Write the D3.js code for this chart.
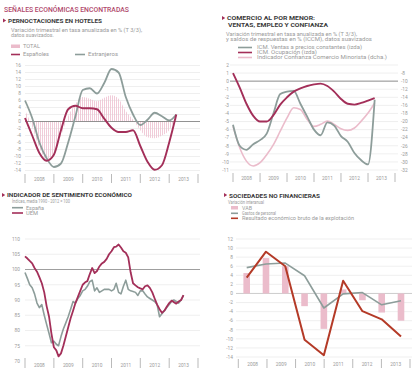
<!DOCTYPE html>
<html>
<head>
<meta charset="utf-8">
<script src="https://d3js.org/d3.v7.min.js"></script>
<style>
  body { margin: 0; background: #fff; }
  svg text { font-family: Roboto, "DejaVu Sans", sans-serif; }
</style>
</head>
<body>
<div id="grafico"></div>
<script>
// ---- datos ----
var anios = ["2008", "2009", "2010", "2011", "2012", "2013"];

var trimestres = ["2008-T1","2008-T2","2008-T3","2008-T4","2009-T1","2009-T2","2009-T3","2009-T4",
                  "2010-T1","2010-T2","2010-T3","2010-T4","2011-T1","2011-T2","2011-T3","2011-T4",
                  "2012-T1","2012-T2","2012-T3","2012-T4","2013-T1","2013-T2"];

// pernoctaciones en hoteles
var hotelTotal       = [3.3, -1.5, -7.5, -10.8, -9.0, -4.0, 1.5, 5.0, 7.0, 6.5, 5.8, 6.8, 7.5, 6.5, 3.0, 0.5, -2.5, -4.5, -4.8, -4.0, -2.5, 1.8];
var hotelEspanoles   = [1.0, -4.0, -9.0, -11.2, -9.5, -2.5, 3.5, 4.5, 3.8, 3.8, 3.5, 0.8, -1.8, -3.0, -3.0, -2.5, -7.0, -11.5, -13.8, -12.5, -6.0, 2.0];
var hotelExtranjeros = [6.0, 1.0, -6.0, -10.5, -13.0, -12.0, -6.0, 1.5, 9.0, 9.5, 8.0, 11.0, 15.0, 14.0, 7.0, 2.0, -1.0, 0.5, 2.5, 1.5, 0.3, 2.0];

// comercio al por menor
var icmVentas    = [-5.4, -8.0, -8.5, -7.8, -7.3, -6.5, -4.0, -1.6, -1.3, -1.2, -2.8, -4.4, -6.0, -6.7, -5.1, -5.5, -6.8, -7.5, -8.9, -9.8, -10.3, -2.3];
var icmOcupacion = [1.0, -0.8, -2.8, -4.3, -5.0, -5.0, -4.2, -2.9, -2.0, -1.3, -0.9, -0.6, -0.4, -0.3, -0.6, -1.3, -2.2, -2.8, -2.9, -2.7, -2.4, -2.1];
var confianzaMinorista = [-21.2, -26.5, -29.8, -31.0, -30.2, -28.2, -25.7, -22.4, -19.1, -16.6, -17.0, -19.5, -21.2, -20.7, -19.9, -20.7, -21.8, -22.2, -21.6, -19.9, -17.9, -15.4];

// indicador de sentimiento económico (mensual, ene 2008 - jul 2013)
var meses = d3.timeMonth.range(new Date(2008, 0, 1), new Date(2013, 7, 1));
var esiEspana = [99.0, 97.0, 95.0, 94.0, 92.0, 89.0, 87.5, 88.5, 85.0, 82.0, 79.0, 76.0,
                 76.5, 75.5, 75.0, 78.0, 80.5, 82.5, 84.5, 87.0, 89.5, 89.0, 90.5, 91.5,
                 93.0, 93.5, 94.5, 96.0, 96.5, 93.0, 94.0, 92.5, 93.0, 93.5, 93.5, 93.5,
                 93.0, 93.5, 95.5, 92.5, 92.0, 94.5, 96.5, 93.5, 93.0, 92.8, 92.5, 91.5,
                 93.0, 93.0, 92.0, 91.0, 90.5, 90.0, 89.5, 88.5, 84.5, 85.5, 86.5, 87.5,
                 88.5, 89.5, 90.0, 89.5, 89.0, 90.0, 91.5];
var esiUem = [104.3, 103.6, 102.8, 102.0, 100.5, 99.3, 97.5, 95.5, 92.5, 88.0, 84.5, 79.0,
              74.5, 73.5, 71.5, 72.5, 75.0, 78.0, 81.0, 84.0, 86.5, 89.0, 91.0, 93.0,
              95.0, 95.8, 96.2, 98.5, 100.5, 98.8, 99.5, 101.0, 102.0, 102.5, 103.5, 105.0,
              106.0, 107.3, 107.5, 108.2, 107.2, 106.0, 105.5, 104.0, 99.0, 95.5, 94.8, 94.2,
              93.8, 93.5, 94.5, 94.8, 94.0, 92.5, 90.5, 88.5, 87.0, 85.8, 86.5, 87.8,
              89.0, 89.8, 89.3, 88.8, 89.5, 90.0, 91.6];

// sociedades no financieras
var periodosSnf = ["P1", "P2", "P3", "P4", "P5", "P6", "P7", "P8", "P9"];
var vab            = [4.5, 7.8, 6.0, -2.8, -7.8, 0.9, -1.5, -4.2, -6.0];
var gastosPersonal = [5.7, 6.5, 6.7, 3.9, -3.2, -0.1, 0.2, -2.5, -1.6];
var resultadoBruto = [3.5, 9.2, 6.0, -10.2, -13.6, 2.8, -3.9, -5.7, -9.5];

// ---- colores ----
var GRANATE = "#a32f59", GRIS = "#8d9d9a", ROSA = "#ebbccb", ROJO = "#b43a27";
var TEXTO = "#9a9a9a";

var svg = d3.select("#grafico").append("svg")
    .attr("width", 414).attr("height", 374);

var defs = svg.append("defs");
var rayas = defs.append("pattern")
    .attr("id", "rayas").attr("patternUnits", "userSpaceOnUse")
    .attr("width", 2).attr("height", 4);
rayas.append("line").attr("x1", 0.5).attr("x2", 0.5).attr("y1", 0).attr("y2", 4)
    .attr("stroke", "#edbfcf").attr("stroke-width", 0.8);

function fechaTrim(t) {
    return new Date(+t.slice(0, 4), (+t.slice(6) - 1) * 3, 1);
}

function texto(x, y, s, size, color, largo, peso) {
    var t = svg.append("text").attr("x", x).attr("y", y)
        .attr("font-size", size).attr("fill", color).text(s);
    if (largo) t.attr("textLength", largo).attr("lengthAdjust", "spacingAndGlyphs");
    if (peso) t.attr("font-weight", peso);
    return t;
}

function triangulo(x, y) {
    svg.append("path").attr("d", "M" + x + "," + (y - 2) + "L" + (x + 3.2) + "," + y + "L" + x + "," + (y + 2) + "Z")
        .attr("fill", GRANATE);
}

function rejilla(y, valores, x0, x1, xEtiq, conEtiq) {
    svg.append("g").selectAll("line").data(valores).join("line")
        .attr("x1", x0).attr("x2", x1)
        .attr("y1", function(d) { return y(d); }).attr("y2", function(d) { return y(d); })
        .attr("stroke", "#e4e4e4").attr("stroke-width", 0.6);
    if (conEtiq !== false) {
        svg.append("g").selectAll("text").data(valores).join("text")
            .attr("x", xEtiq).attr("y", function(d) { return y(d) + 1.8; })
            .attr("text-anchor", "end").attr("font-size", 4.8).attr("fill", TEXTO)
            .text(function(d) { return d; });
    }
}

function lineaRef(y, v, x0, x1, color) {
    svg.append("line").attr("x1", x0).attr("x2", x1)
        .attr("y1", y(v)).attr("y2", y(v))
        .attr("stroke", color).attr("stroke-width", 0.8);
}

function ejeAnios(x, etiquetas, y0, y1, yTexto) {
    var limites = etiquetas.map(function(a) { return new Date(+a, 0, 1); });
    limites.push(new Date(+etiquetas[etiquetas.length - 1] + 1, 0, 1));
    svg.append("g").selectAll("line").data(limites).join("line")
        .attr("x1", function(d) { return x(d); }).attr("x2", function(d) { return x(d); })
        .attr("y1", y0).attr("y2", y1)
        .attr("stroke", "#9c9c9c").attr("stroke-width", 0.7);
    svg.append("g").selectAll("text").data(etiquetas).join("text")
        .attr("x", function(d) { return (x(new Date(+d, 0, 1)) + x(new Date(+d + 1, 0, 1))) / 2; })
        .attr("y", yTexto).attr("text-anchor", "middle")
        .attr("font-size", 4.8).attr("fill", TEXTO).text(function(d) { return d; });
}

function trazo(datos, x, y, xf, color, ancho, curva) {
    svg.append("path").datum(datos)
        .attr("fill", "none").attr("stroke", color).attr("stroke-width", ancho)
        .attr("stroke-linejoin", "round")
        .attr("d", d3.line().x(function(d, i) { return x(xf(i)); }).y(function(d) { return y(d); }).curve(curva));
}

function muestraLinea(x0, x1, y, color, ancho) {
    svg.append("line").attr("x1", x0).attr("x2", x1).attr("y1", y).attr("y2", y)
        .attr("stroke", color).attr("stroke-width", ancho);
}

// ---- título general ----
texto(4, 12, "SEÑALES ECONÓMICAS ENCONTRADAS", 7, "#b0486c", 125, 500);

// ================= 1. Pernoctaciones en hoteles =================
triangulo(3, 20.5);
texto(8, 22.5, "PERNOCTACIONES EN HOTELES", 5.4, "#3a3a3a", 94, 700);
texto(11, 31.5, "Variación trimestral en tasa anualizada en % (T 3/3),", 4.9, TEXTO, 131);
texto(11, 37, "datos suavizados.", 4.9, TEXTO, 43);
svg.append("rect").attr("x", 11).attr("y", 44.5).attr("width", 9).attr("height", 3.5).attr("fill", ROSA);
texto(23, 48.3, "TOTAL", 4.9, TEXTO, 17);
muestraLinea(11, 20, 54.5, GRANATE, 1.6);
texto(23, 56.3, "Españoles", 4.9, TEXTO, 26);
muestraLinea(75, 85, 54.5, GRIS, 1.6);
texto(88, 56.3, "Extranjeros", 4.9, TEXTO, 30);

var x1 = d3.scaleTime().domain([new Date(2008, 0, 1), new Date(2014, 0, 1)]).range([25, 198]);
var y1 = d3.scaleLinear().domain([-14, 16]).range([170.5, 65.5]);
rejilla(y1, d3.range(-14, 17, 2), 25, 200, 21);
svg.append("path").datum(hotelTotal)
    .attr("fill", "url(#rayas)")
    .attr("d", d3.area().x(function(d, i) { return x1(fechaTrim(trimestres[i])); })
        .y0(y1(0)).y1(function(d) { return y1(d); }).curve(d3.curveMonotoneX));
lineaRef(y1, 0, 25, 200, "#7a7a7a");
var xt = function(i) { return fechaTrim(trimestres[i]); };
trazo(hotelExtranjeros, x1, y1, xt, GRIS, 1.8, d3.curveMonotoneX);
trazo(hotelEspanoles, x1, y1, xt, GRANATE, 1.9, d3.curveMonotoneX);
ejeAnios(x1, anios, 174, 183, 180.5);

// ================= 2. Comercio al por menor =================
triangulo(222, 18);
texto(227, 20, "COMERCIO AL POR MENOR:", 5.4, "#3a3a3a", 88, 700);
texto(228, 27, "VENTAS, EMPLEO Y CONFIANZA", 5.4, "#3a3a3a", 100, 700);
texto(226, 35.5, "Variación trimestral en tasa anualizada en % (T 3/3),", 4.9, TEXTO, 131);
texto(226, 41, "y saldos de respuestas en % (ICCM), datos suavizados", 4.9, TEXTO, 146);
muestraLinea(238, 252, 47.5, GRIS, 1.6);
texto(257, 49.3, "ICM. Ventas a precios constantes (izda)", 4.9, TEXTO, 105);
muestraLinea(238, 252, 52.5, GRANATE, 1.6);
texto(257, 54.3, "ICM. Ocupación (izda)", 4.9, TEXTO, 60);
muestraLinea(238, 252, 57.5, ROSA, 1.6);
texto(257, 59.3, "Indicador Confianza Comercio Minorista (dcha.)", 4.9, TEXTO, 130);

var x2 = d3.scaleTime().domain([new Date(2008, 0, 1), new Date(2014, 0, 1)]).range([233, 395]);
var y2 = d3.scaleLinear().domain([-11, 2]).range([170, 65]);
var y2d = d3.scaleLinear().domain([-32, -6]).range([170, 65]);
rejilla(y2, d3.range(-11, 3, 1), 230, 398, 229);
svg.append("g").selectAll("text").data(d3.range(-32, -7, 2)).join("text")
    .attr("x", 401).attr("y", function(d) { return y2d(d) + 1.8; })
    .attr("font-size", 4.8).attr("fill", TEXTO).text(function(d) { return d; });
lineaRef(y2, 0, 230, 398, "#7a7a7a");
trazo(confianzaMinorista, x2, y2d, xt, ROSA, 1.6, d3.curveMonotoneX);
trazo(icmVentas, x2, y2, xt, GRIS, 1.8, d3.curveMonotoneX);
trazo(icmOcupacion, x2, y2, xt, GRANATE, 1.9, d3.curveMonotoneX);
ejeAnios(x2, anios, 173, 182, 179.5);

// ================= 3. Indicador de sentimiento económico =================
triangulo(2, 195);
texto(7, 197, "INDICADOR DE SENTIMIENTO ECONÓMICO", 5.4, "#3a3a3a", 125, 700);
texto(12, 203, "Índices, media 1990 - 2012 = 100", 4.9, TEXTO, 58);
muestraLinea(12, 23, 207.7, GRIS, 1.6);
texto(26, 209.5, "España", 4.9, TEXTO, 18);
muestraLinea(12, 23, 213, GRANATE, 1.6);
texto(26, 214.8, "UEM", 4.9, TEXTO, 12);

var x3 = d3.scaleTime().domain([new Date(2008, 0, 1), new Date(2014, 0, 1)]).range([25, 198]);
var y3 = d3.scaleLinear().domain([70, 110]).range([361, 239]);
rejilla(y3, d3.range(75, 111, 5), 25, 200, 20);
texto(20, 362.5, "70", 4.8, TEXTO).attr("text-anchor", "end");
lineaRef(y3, 100, 25, 200, "#8a8a8a");
var xm = function(i) { return meses[i]; };
trazo(esiEspana, x3, y3, xm, GRIS, 1.6, d3.curveLinear);
trazo(esiUem, x3, y3, xm, GRANATE, 1.8, d3.curveLinear);
ejeAnios(x3, anios, 358, 368, 366.5);

// ================= 4. Sociedades no financieras =================
triangulo(224, 195);
texto(229, 197.5, "SOCIEDADES NO FINANCIERAS", 5.4, "#3a3a3a", 91, 700);
texto(228, 203.5, "Variación interanual", 4.9, TEXTO, 36);
svg.append("rect").attr("x", 231).attr("y", 206).attr("width", 7).attr("height", 3.5).attr("fill", ROSA);
texto(242, 209.5, "VAB", 4.9, TEXTO, 10);
muestraLinea(231, 238, 213.3, GRIS, 1.6);
texto(242, 215, "Gastos de personal", 4.9, TEXTO, 34);
muestraLinea(231, 238, 218.3, ROJO, 1.6);
texto(242, 220, "Resultado económico bruto de la explotación", 4.9, TEXTO, 112);

var x4anios = d3.scaleTime().domain([new Date(2008, 0, 1), new Date(2014, 0, 1)]).range([238.3, 410]);
var x4 = d3.scalePoint().domain(periodosSnf).range([246.7, 401]);
var y4 = d3.scaleLinear().domain([-14, 12]).range([357, 239]);
rejilla(y4, d3.range(-14, 13, 2), 236, 412, 233);
lineaRef(y4, 0, 236, 412, "#c4c4c4");
svg.append("g").selectAll("rect").data(vab).join("rect")
    .attr("x", function(d, i) { return x4(periodosSnf[i]) - 3.3; })
    .attr("width", 6.6)
    .attr("y", function(d) { return y4(Math.max(0, d)); })
    .attr("height", function(d) { return Math.abs(y4(d) - y4(0)); })
    .attr("fill", ROSA);
var xp = function(i) { return periodosSnf[i]; };
trazo(gastosPersonal, x4, y4, xp, GRIS, 1.6, d3.curveLinear);
trazo(resultadoBruto, x4, y4, xp, ROJO, 2, d3.curveLinear);
ejeAnios(x4anios, anios, 359, 368, 366);
</script>
</body>
</html>
